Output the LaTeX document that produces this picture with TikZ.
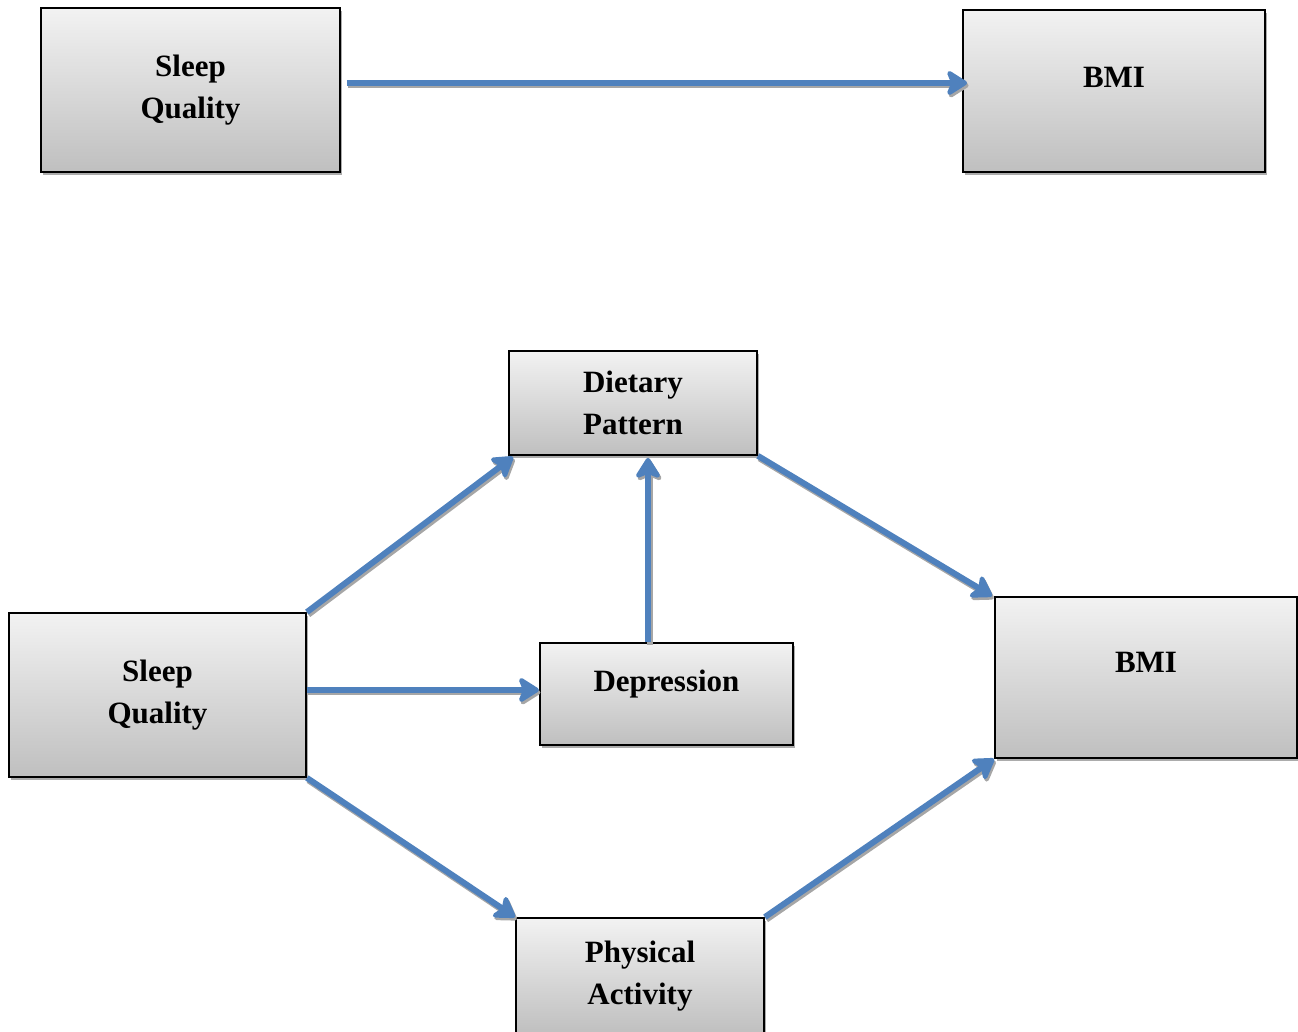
\documentclass[tikz,border=0pt]{standalone}
\usepackage{fontspec}
\setmainfont{Liberation Serif}
\usetikzlibrary{arrows.meta,shadows,calc}
\definecolor{arrowblue}{HTML}{4F81BD}
\tikzset{
  varbox/.style={draw=black, line width=1.8pt, top color=gray!10, bottom color=gray!50,
    drop shadow={shadow xshift=2pt, shadow yshift=-3pt, fill=gray!65, opacity=1},
    align=center, font=\fontsize{31}{42}\selectfont\bfseries, inner sep=0pt},
  arrowpath/.style={draw=arrowblue, line width=6pt, -{Stealth[length=24pt,width=30pt,inset=6pt,round]}},
  arrowshadow/.style={draw=gray!70, line width=6pt, -{Stealth[length=24pt,width=30pt,inset=6pt,round]}}
}
\begin{document}
\begin{tikzpicture}[x=1pt,y=1pt]
\useasboundingbox (0,0) rectangle (1298,1032);
% top model
\node[varbox, minimum width=299pt, minimum height=164pt] (sq1) at (190.5,942) {Sleep\\Quality};
\node[varbox, minimum width=302pt, minimum height=162pt, text height=22pt, text depth=28pt] (bmi1) at (1114,941) {BMI};
% bottom model
\node[varbox, minimum width=248pt, minimum height=104pt] (dp) at (633,629) {Dietary\\Pattern};
\node[varbox, minimum width=297pt, minimum height=164pt] (sq2) at (157.5,337) {Sleep\\Quality};
\node[varbox, minimum width=253pt, minimum height=102pt, text height=22pt, text depth=26pt] (dep) at (666.5,338) {Depression};
\node[varbox, minimum width=302pt, minimum height=161pt, text height=22pt, text depth=32pt] (bmi2) at (1146,354.5) {BMI};
\node[varbox, minimum width=248pt, minimum height=116pt] (pa) at (640,56) {Physical\\Activity};
% arrows, shadow first
\foreach \s/\t in {arrowshadow/{(1.5,-2.5)}, arrowpath/{(0,0)}} {
  \draw[\s] ([shift=\t]$(sq1.east)+(6,7)$) -- ([shift=\t]$(bmi1.west)+(5,8)$);
  \draw[\s] ([shift=\t]$(sq2.east)+(0,5)$) -- ([shift=\t]$(sq2.east)+(232,5)$);
  \draw[\s] ([shift=\t]$(dep.north)+(-18.5,0)$) -- ([shift=\t]$(dep.north |- dp.south)+(-18.5,-2)$);
  \draw[\s] ([shift=\t]sq2.north east) -- ([shift=\t]$(dp.south west)+(5,-1)$);
  \draw[\s] ([shift=\t]sq2.south east) -- ([shift=\t]pa.north west);
  \draw[\s] ([shift=\t]dp.south east) -- ([shift=\t]$(bmi2.north west)+(-2,0)$);
  \draw[\s] ([shift=\t]pa.north east) -- ([shift=\t]bmi2.south west);
}
\end{tikzpicture}
\end{document}
